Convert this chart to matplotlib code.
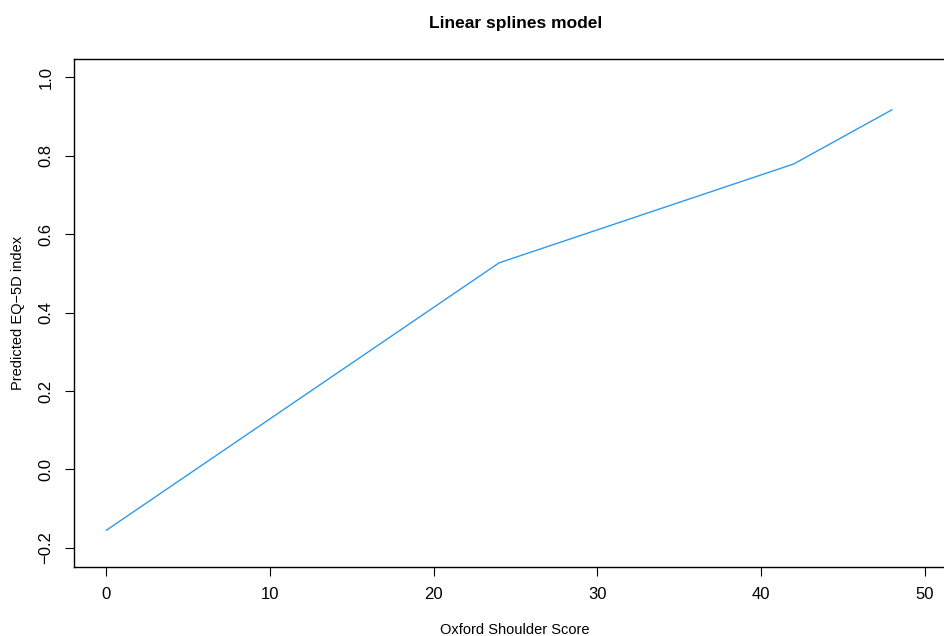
import matplotlib.pyplot as plt

plt.rcParams['font.family'] = ['Liberation Sans', 'DejaVu Sans']

# spline knots
oss = [0, 24, 42, 48]
eq5d = [-0.155, 0.527, 0.779, 0.917]
xticks = [0, 10, 20, 30, 40, 50]
ytick_vals = [-0.2, 0.0, 0.2, 0.4, 0.6, 0.8, 1.0]
ytick_labels = ["\u22120.2", "0.0", "0.2", "0.4", "0.6", "0.8", "1.0"]

fig = plt.figure(figsize=(9.45, 6.36), dpi=100)
ax = fig.add_axes([0.078, 0.109, 0.935, 0.799])

ax.plot(oss, eq5d, color="#2F9AEC", linewidth=1.0)

ax.set_xlim(-2, 52)
ax.set_ylim(-0.248, 1.048)
ax.set_xticks(xticks)
ax.set_xticklabels([str(t) for t in xticks])
ax.set_yticks(ytick_vals)
ax.set_yticklabels(ytick_labels, rotation=90, va="center")
ax.tick_params(direction="out", length=6.2, width=0.8, pad=8.5, labelsize=12)

for s in ax.spines.values():
    s.set_linewidth(1.0)

ax.set_title("Linear splines model", fontsize=12.5, fontweight="bold", pad=22)
ax.set_xlabel("Oxford Shoulder Score", fontsize=10.5)
ax.set_ylabel("Predicted EQ\u22125D index", fontsize=10.5)
ax.xaxis.set_label_coords((515 - 73.7) / (957 - 73.7), (566.5 - 623) / (566.5 - 58.3))
ax.yaxis.set_label_coords((25 - 73.7) / (957 - 73.7), 0.5)

fig.savefig("out.png", dpi=100)
